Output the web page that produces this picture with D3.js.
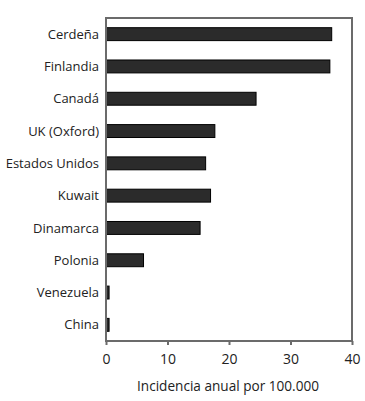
<!DOCTYPE html>
<html><head><meta charset="utf-8">
<script src="https://cdn.jsdelivr.net/npm/d3@7"></script>
<style>body{margin:0;background:#fff}text{font-family:"Open Sans",sans-serif}</style>
</head><body>
<svg id="c" width="365" height="401"></svg>
<script>
const categories = ["Cerdeña","Finlandia","Canadá","UK (Oxford)","Estados Unidos","Kuwait","Dinamarca","Polonia","Venezuela","China"];
const values = [36.7, 36.4, 24.4, 17.7, 16.2, 17.0, 15.3, 6.1, 0.5, 0.5];
const ticks = [0, 10, 20, 30, 40];
const xTitle = "Incidencia anual por 100.000";

const m = {l:106, r:352, t:18, b:341};
const svg = d3.select("#c");
const x = d3.scaleLinear().domain([0,40]).range([m.l, m.r]);
const y = d3.scaleBand().domain(categories).range([m.t, m.b]).paddingInner(0.6).paddingOuter(0.3);

svg.selectAll("rect.bar").data(values).join("rect").attr("class","bar")
  .attr("x", x(0)).attr("y",(d,i)=>y(categories[i]))
  .attr("width", d=>x(d)-x(0)).attr("height", y.bandwidth())
  .attr("fill","#2b2b2b").attr("stroke","#000").attr("stroke-width",1);

svg.append("rect").attr("x",m.l).attr("y",m.t).attr("width",m.r-m.l).attr("height",m.b-m.t)
  .attr("fill","none").attr("stroke","#6b6b6b").attr("stroke-width",2);

svg.selectAll("text.cat").data(categories).join("text").attr("class","cat")
  .attr("x", m.l-7).attr("y", d=>y(d)+y.bandwidth()/2).attr("dy","0.35em")
  .attr("text-anchor","end").attr("font-size",13).attr("fill","#222").text(d=>d);

const ax = svg.append("g").attr("transform",`translate(0,${m.b})`)
  .call(d3.axisBottom(x).tickValues(ticks).tickSize(4).tickPadding(9).tickFormat(d3.format("d")));
ax.select(".domain").remove();
ax.selectAll("line").attr("stroke","#6b6b6b").attr("stroke-width",2);
ax.selectAll("text").attr("font-size",14).attr("fill","#222").attr("font-family","Open Sans");

svg.append("text").attr("x",(m.l+m.r)/2 - 1).attr("y",391).attr("text-anchor","middle")
  .attr("font-size",13.6).attr("fill","#222").text(xTitle);
</script>
</body></html>
